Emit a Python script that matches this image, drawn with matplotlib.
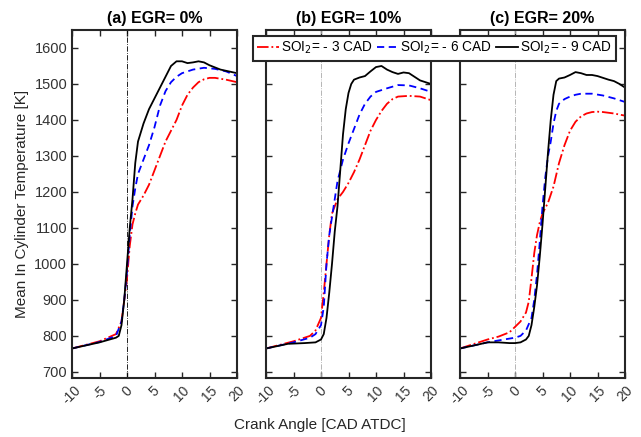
import matplotlib.pyplot as plt

plt.rcParams['font.family'] = ['Liberation Sans', 'DejaVu Sans']
plt.rcParams['axes.unicode_minus'] = False

# panel (a) EGR 0%
a_x_black = [-10, -5, -2, -1.5, -1, -0.5, 0, 0.5, 1, 1.5, 2, 3, 4, 5, 6, 7, 8, 9, 10, 11, 12, 13, 14, 15, 17, 20]
a_y_black = [765, 782, 795, 800, 830, 900, 1000, 1100, 1180, 1280, 1340, 1390, 1430, 1460, 1490, 1520, 1550, 1563, 1563, 1558, 1560, 1563, 1560, 1552, 1540, 1530]
a_x_blue = [-10, -5, -2, -1, -0.5, 0, 0.5, 1, 1.5, 2, 3, 4, 5, 6, 7, 8, 9, 10, 12, 14, 16, 18, 20]
a_y_blue = [765, 783, 800, 840, 900, 980, 1080, 1160, 1210, 1250, 1290, 1330, 1380, 1440, 1480, 1505, 1520, 1530, 1540, 1545, 1542, 1535, 1522]
a_x_red = [-10, -5, -2, -1, -0.5, 0, 0.5, 1, 1.5, 2, 3, 4, 5, 6, 7, 8, 9, 10, 11, 12, 13, 14, 15, 16, 18, 20]
a_y_red = [765, 785, 805, 840, 900, 960, 1050, 1110, 1140, 1165, 1190, 1220, 1260, 1300, 1340, 1370, 1400, 1440, 1470, 1490, 1505, 1513, 1517, 1517, 1512, 1505]

# panel (b) EGR 10%
b_x_black = [-10, -6, -3, -1, 0, 0.5, 1, 1.5, 2, 2.5, 3, 3.5, 4, 4.5, 5, 5.5, 6, 7, 8, 9, 10, 11, 12, 13, 14, 15, 16, 17, 18, 20]
b_y_black = [765, 778, 780, 782, 790, 805, 850, 920, 1000, 1090, 1160, 1260, 1360, 1430, 1475, 1500, 1512, 1518, 1522, 1535, 1547, 1550, 1540, 1533, 1528, 1532, 1530, 1520, 1510, 1500]
b_x_blue = [-10, -5, -2, -1, 0, 0.5, 1, 1.5, 2, 2.5, 3, 4, 5, 6, 7, 8, 9, 10, 12, 14, 16, 18, 20]
b_y_blue = [765, 782, 795, 805, 830, 880, 1000, 1080, 1130, 1180, 1230, 1290, 1335, 1375, 1415, 1445, 1465, 1478, 1488, 1497, 1496, 1488, 1478]
b_x_red = [-10, -5, -2, -1, 0, 0.5, 1, 1.5, 2, 3, 4, 5, 6, 7, 8, 9, 10, 11, 12, 13, 14, 16, 18, 20]
b_y_red = [765, 785, 800, 815, 850, 920, 1000, 1080, 1140, 1180, 1200, 1225, 1255, 1290, 1330, 1370, 1400, 1425, 1445, 1458, 1465, 1467, 1465, 1455]

# panel (c) EGR 20%
c_x_black = [-10, -7, -5, -3, -1, 0, 1, 2, 2.5, 3, 3.5, 4, 4.5, 5, 5.5, 6, 6.5, 7, 7.5, 8, 9, 10, 11, 12, 13, 14, 15, 16, 17, 18, 19, 20]
c_y_black = [765, 775, 782, 782, 780, 780, 782, 790, 800, 830, 880, 940, 1020, 1110, 1210, 1310, 1400, 1470, 1508, 1515, 1518, 1525, 1533, 1530, 1525, 1525, 1522, 1517, 1512, 1508, 1500, 1490]
c_x_blue = [-10, -5, -2, 0, 1, 2, 3, 3.5, 4, 4.5, 5, 5.5, 6, 6.5, 7, 7.5, 8, 9, 10, 11, 12, 14, 16, 18, 20]
c_y_blue = [765, 782, 790, 795, 800, 815, 850, 900, 970, 1060, 1160, 1240, 1300, 1340, 1390, 1425, 1445, 1458, 1465, 1470, 1473, 1473, 1468, 1460, 1450]
c_x_red = [-10, -5, -3, -1, 0, 1, 2, 2.5, 3, 3.5, 4, 4.5, 5, 6, 7, 8, 9, 10, 11, 12, 13, 14, 15, 16, 18, 20]
c_y_red = [765, 790, 798, 810, 825, 840, 865, 895, 960, 1030, 1080, 1115, 1140, 1170, 1215, 1280, 1330, 1370, 1395, 1410, 1418, 1422, 1423, 1422, 1418, 1412]

titles = ['(a) EGR= 0%', '(b) EGR= 10%', '(c) EGR= 20%']
labels = ['SOI$_2$= - 3 CAD', 'SOI$_2$= - 6 CAD', 'SOI$_2$= - 9 CAD']
panels = [
    (a_x_red, a_y_red, a_x_blue, a_y_blue, a_x_black, a_y_black),
    (b_x_red, b_y_red, b_x_blue, b_y_blue, b_x_black, b_y_black),
    (c_x_red, c_y_red, c_x_blue, c_y_blue, c_x_black, c_y_black),
]

fig = plt.figure(figsize=(6.41, 4.37), dpi=100)
lefts = [72, 266, 460]
spine_col = '#262626'

for i, (xr, yr, xb, yb, xk, yk) in enumerate(panels):
    ax = fig.add_axes([lefts[i] / 641, 1 - 378 / 437, 165 / 641, 348 / 437])
    if i == 0:
        ax.axvline(0, color='k', linestyle='-.', linewidth=0.6)
    else:
        ax.axvline(0, color='#aaaaaa', linestyle='-.', linewidth=0.6)
    ax.plot(xr, yr, color='red', linestyle='-.', linewidth=1.3, label=labels[0])
    ax.plot(xb, yb, color='blue', linestyle=(0, (4, 2.5)), linewidth=1.3, label=labels[1])
    ax.plot(xk, yk, color='black', linestyle='-', linewidth=1.3, label=labels[2])
    ax.set_xlim(-10, 20)
    ax.set_ylim(683, 1650)
    ax.set_xticks([-10, -5, 0, 5, 10, 15, 20])
    ax.set_yticks(range(700, 1601, 100))
    ax.tick_params(direction='in', top=True, right=True, length=4, width=1,
                   colors=spine_col, labelsize=10.5, labelcolor='#333333')
    ax.tick_params(axis='x', labelsize=10, pad=4)
    for lab in ax.get_xticklabels():
        lab.set_rotation(45)
    for s in ax.spines.values():
        s.set_linewidth(1.5)
        s.set_color(spine_col)
    if i == 0:
        ax.set_ylabel('Mean In Cylinder Temperature [K]', fontsize=11, color='#262626')
    else:
        ax.set_yticklabels([])
    ax.set_title(titles[i], fontsize=11.5, fontweight='bold', pad=5)
    if i == 2:
        handles, labs = ax.get_legend_handles_labels()

leg = fig.legend(handles, labs, ncol=3, loc='upper left',
                 bbox_to_anchor=(253 / 641, 1 - 36 / 437),
                 fontsize=9.8, frameon=True, fancybox=False, handlelength=1.6,
                 handletextpad=0.15, columnspacing=0.3, borderpad=0.3,
                 borderaxespad=0)
leg.get_frame().set_edgecolor(spine_col)
leg.get_frame().set_linewidth(1.5)
leg.get_frame().set_alpha(1)

fig.text(320 / 641, 1 - 425 / 437, 'Crank Angle [CAD ATDC]', ha='center', va='center',
         fontsize=11, color='#262626')

fig.savefig('out.png', dpi=100)
